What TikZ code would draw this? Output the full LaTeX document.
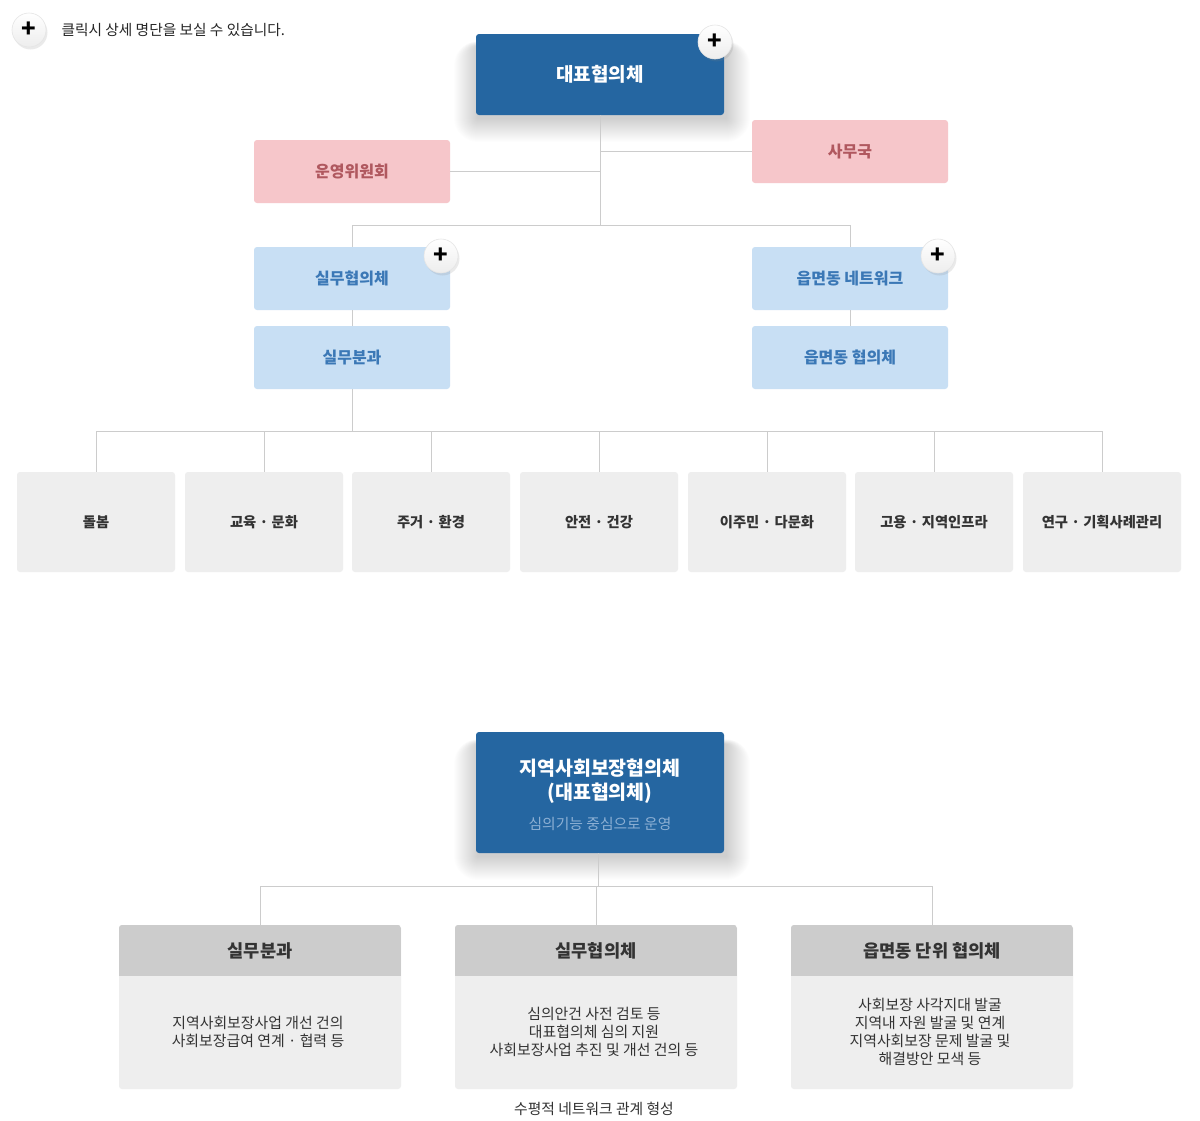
\documentclass[tikz,border=0pt]{standalone}
\usepackage{fontspec}
\setmainfont{Noto Sans CJK KR}
\usetikzlibrary{shadows}
\definecolor{dblue}{HTML}{2566A1}
\definecolor{pinkf}{HTML}{F6C6CA}
\definecolor{pinkt}{HTML}{B0585F}
\definecolor{lbluef}{HTML}{C8DFF4}
\definecolor{bluet}{HTML}{3B78B6}
\definecolor{grayf}{HTML}{EEEEEE}
\definecolor{headf}{HTML}{CCCCCC}
\definecolor{txt}{HTML}{333333}
\definecolor{linec}{HTML}{CCCCCC}
\definecolor{subt}{HTML}{8DB0D4}
\newcommand\softshadow[4]{%
  \foreach \s in {1,...,24}{%
    \fill[black,opacity=0.009,rounded corners=\s pt] (#1-\s+2,#2-\s*0.2+12) rectangle (#3+\s+2,#4+\s+3);}}
\begin{document}
\begin{tikzpicture}[x=1pt,y=-1pt,
  conn/.style={draw=linec,line width=1pt},
  box/.style={rectangle,rounded corners=3pt,inner sep=0pt,minimum width=196pt,minimum height=63pt,font=\fontsize{16}{19}\selectfont\bfseries},
  pinkbox/.style={box,fill=pinkf,text=pinkt},
  bluebox/.style={box,fill=lbluef,text=bluet},
  darkbox/.style={rectangle,rounded corners=3pt,inner sep=0pt,fill=dblue,text=white,minimum width=248pt},
  catbox/.style={rectangle,rounded corners=3pt,inner sep=0pt,fill=grayf,text=txt,minimum width=158pt,minimum height=100pt,font=\fontsize{14.3}{17}\selectfont\bfseries},
  plusbtn/.style={circle,minimum size=34pt,inner sep=0pt,top color=white,bottom color=black!7,draw=black!10,line width=0.6pt,
     drop shadow={opacity=0.16,shadow xshift=1.5pt,shadow yshift=-2.5pt},font=\fontsize{24}{24}\selectfont\bfseries},
  bodytxt/.style={align=center,text=txt,font=\fontsize{14.9}{18}\selectfont},
  headtxt/.style={text=txt,font=\fontsize{17.6}{20}\selectfont\bfseries}
]
\useasboundingbox (0,0) rectangle (1200,1120);
\fill[white] (0,0) rectangle (1200,1120);

% ---------- top hint ----------
\node[plusbtn] (hintbtn) at (29,30) {\raisebox{1.5pt}{+}};
\node[anchor=west,text=black!85,font=\fontsize{14.7}{17}\selectfont] (hint) at (58,30) {클릭시 상세 명단을 보실 수 있습니다.};

% ---------- upper chart ----------
\softshadow{476}{34}{724}{115}
\node[darkbox,minimum height=81pt,font=\fontsize{19}{22}\selectfont\bfseries] (top) at (600,74.5) {대표협의체};
\node[plusbtn] (topbtn) at (715,42) {\raisebox{1.5pt}{+}};

\node[pinkbox] (samu) at (850,151.5) {사무국};
\node[pinkbox] (unyoung) at (352,171.5) {운영위원회};
\node[bluebox] (silmu) at (352,278.5) {실무협의체};
\node[bluebox] (eupnet) at (850,278.5) {읍면동 네트워크};
\node[bluebox] (bunkwa) at (352,357.5) {실무분과};
\node[bluebox] (eupcoun) at (850,357.5) {읍면동 협의체};

\coordinate (j1) at (600,225);
\coordinate (j2) at (352,431);

\draw[conn] (top.south) -- (j1);
\draw[conn] (samu.west) -- (samu.west -| top.south);
\draw[conn] (unyoung.east) -- (unyoung.east -| top.south);
\draw[conn] (silmu.north) -- (silmu.north |- j1) -- (eupnet.north |- j1) -- (eupnet.north);
\draw[conn] (silmu.south) -- (bunkwa.north);
\draw[conn] (eupnet.south) -- (eupcoun.north);
\draw[conn] (bunkwa.south) -- (j2);

\node[plusbtn] (silmubtn) at (441,256) {\raisebox{1.5pt}{+}};
\node[plusbtn] (eupbtn) at (938,256) {\raisebox{1.5pt}{+}};

\node[catbox] (c1) at (96,522) {돌봄};
\node[catbox] (c2) at (264,522) {교육 · 문화};
\node[catbox] (c3) at (431,522) {주거 · 환경};
\node[catbox] (c4) at (599,522) {안전 · 건강};
\node[catbox] (c5) at (767,522) {이주민 · 다문화};
\node[catbox] (c6) at (934,522) {고용 · 지역인프라};
\node[catbox] (c7) at (1102,522) {연구 · 기획사례관리};

\draw[conn] (c1.north |- j2) -- (c7.north |- j2);
\foreach \c in {c1,c2,c3,c4,c5,c6,c7}{\draw[conn] (\c.north) -- (\c.north |- j2);}

% ---------- lower chart ----------
\softshadow{476}{732}{724}{853}
\node[darkbox,minimum height=121pt] (main) at (600,792.5) {};
\node[text=white,align=center,font=\fontsize{19.5}{24}\selectfont\bfseries] (maint) at (600,781) {지역사회보장협의체\\(대표협의체)};
\node[text=subt,font=\fontsize{14.8}{17}\selectfont] (mains) at (600,824) {심의기능 중심으로 운영};

\coordinate (j3) at (598,886);

\foreach \n/\x in {b1/260,b2/596,b3/932}{
  \node[rectangle,rounded corners=3pt,fill=grayf,minimum width=282pt,minimum height=164pt,inner sep=0pt] (\n) at (\x,1007) {};
  \begin{scope}
    \clip[rounded corners=3pt] (\x-141,925) rectangle (\x+141,1089);
    \fill[headf] (\x-141,925) rectangle (\x+141,976);
  \end{scope}
}
\node[headtxt] (h1) at (260,950.5) {실무분과};
\node[headtxt] (h2) at (596,950.5) {실무협의체};
\node[headtxt] (h3) at (932,950.5) {읍면동 단위 협의체};

\node[bodytxt] (t1) at (258,1032) {지역사회보장사업 개선 건의\\사회보장급여 연계 · 협력 등};
\node[bodytxt] (t2) at (594,1032) {심의안건 사전 검토 등\\대표협의체 심의 지원\\사회보장사업 추진 및 개선 건의 등};
\node[bodytxt] (t3) at (930,1032) {사회보장 사각지대 발굴\\지역내 자원 발굴 및 연계\\지역사회보장 문제 발굴 및\\해결방안 모색 등};

\draw[conn] (main.south -| j3) -- (j3);
\draw[conn] (b1.north |- j3) -- (b3.north |- j3);
\foreach \n in {b1,b2,b3}{\draw[conn] (\n.north) -- (\n.north |- j3);}

\node[text=txt,font=\fontsize{14.8}{17}\selectfont] (cap) at (594,1109) {수평적 네트워크 관계 형성};
\end{tikzpicture}
\end{document}
